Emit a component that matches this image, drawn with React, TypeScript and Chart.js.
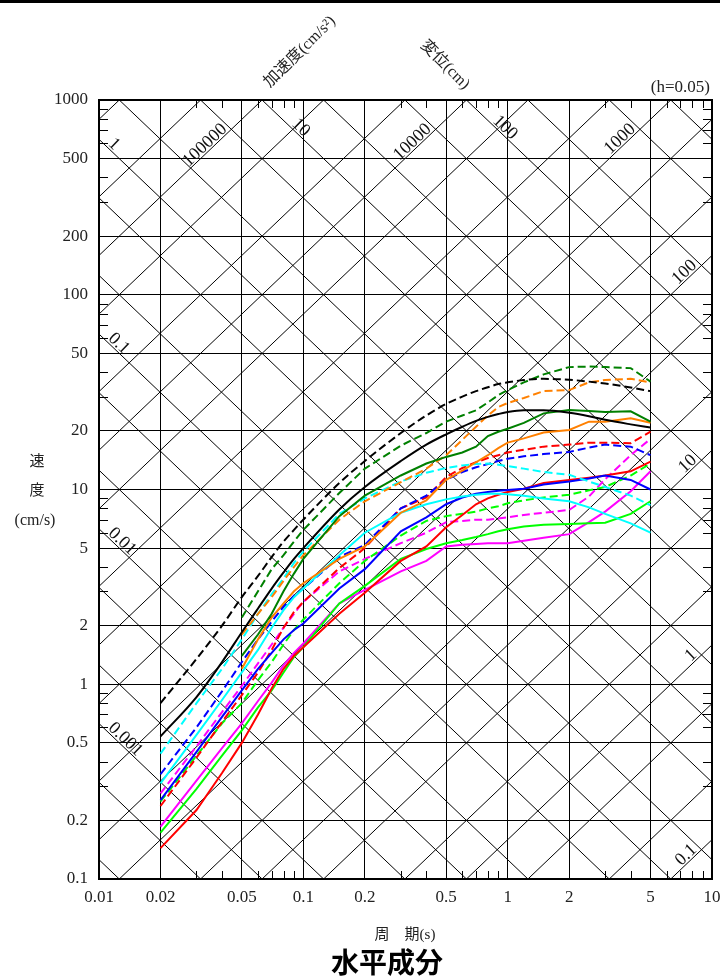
import React, { useEffect, useRef } from "react";
import { Chart, registerables } from "chart.js";

Chart.register(...registerables);

// ---- data ----
const periods = [0.02, 0.03, 0.04, 0.05, 0.06, 0.07, 0.08, 0.09, 0.1, 0.15, 0.2, 0.3, 0.4, 0.5, 0.6, 0.7, 0.8, 0.9, 1.0, 1.2, 1.5, 2, 2.5, 3, 4, 5];

const blackDashed = [0.8, 1.35, 2.0, 2.8, 3.6, 4.5, 5.4, 6.2, 7.0, 10.8, 14.0, 19.5, 24.0, 27.5, 30.0, 32.0, 33.5, 34.8, 35.5, 36.5, 37.0, 36.6, 35.8, 35.0, 33.4, 32.0];
const blackSolid = [0.54, 0.86, 1.3, 1.85, 2.45, 3.1, 3.75, 4.4, 5.0, 7.9, 10.3, 14.0, 17.0, 19.2, 21.0, 22.5, 23.6, 24.4, 25.0, 25.5, 25.5, 24.8, 23.8, 22.8, 21.6, 20.8];
const greenDashed = [null, null, null, 2.2, 3.0, 3.9, 4.6, 5.4, 6.2, 9.6, 12.8, 16.8, 19.5, 22.3, 24.0, 25.5, 28.0, 30.5, 32.4, 35.5, 39.0, 42.5, 42.8, 42.5, 42.0, 35.8];
const greenSolid = [null, null, null, 1.4, 1.8, 2.3, 3.0, 3.7, 4.4, 7.3, 9.3, 11.8, 13.6, 14.7, 15.5, 16.6, 18.8, 19.8, 20.5, 22.0, 24.6, 25.6, 25.3, 25.0, 25.2, 22.3];
const orangeDashed = [null, null, null, 1.8, 2.3, 2.8, 3.4, 4.0, 4.6, 7.0, 8.7, 10.9, 12.8, 15.0, 18.0, 21.0, 24.0, 26.5, 27.8, 29.5, 32.0, 32.4, 35.5, 36.5, 37.0, 35.5];
const orangeSolid = [null, null, null, 1.2, 1.7, 2.2, 2.6, 3.0, 3.3, 4.4, 5.1, 7.6, 8.8, 11.2, 12.5, 13.8, 15.0, 16.3, 17.4, 18.3, 19.6, 20.2, 22.3, 22.3, 23.2, 22.0];
const cyanDashed = [0.44, 0.8, 1.2, 1.7, 2.3, 2.9, 3.5, 4.2, 4.8, 7.5, 9.0, 11.0, 12.2, 12.9, 13.3, 13.5, 13.6, 13.4, 13.2, 12.8, 12.3, 11.9, 11.0, 10.3, 9.3, 8.3];
const cyanSolid = [0.31, 0.55, 0.83, 1.15, 1.5, 1.95, 2.4, 2.8, 3.1, 4.6, 6.0, 7.6, 8.4, 8.9, 9.2, 9.4, 9.5, 9.5, 9.45, 9.3, 9.0, 8.7, 8.1, 7.5, 6.7, 6.0];
const blueDashed = [0.345, 0.6, 0.92, 1.3, 1.7, 2.1, 2.5, 2.85, 3.1, 4.5, 5.2, 8.0, 9.3, 11.2, 12.3, 13.0, 13.5, 14.0, 14.4, 14.8, 15.2, 15.6, 16.4, 17.0, 16.6, 15.0];
const blueSolid = [0.254, 0.45, 0.68, 0.93, 1.2, 1.45, 1.7, 1.9, 2.05, 3.1, 3.9, 6.1, 7.2, 8.4, 9.1, 9.5, 9.7, 9.85, 9.95, 10.1, 10.6, 11.0, 11.4, 11.8, 11.2, 10.0];
const redDashed = [0.237, 0.42, 0.64, 0.88, 1.15, 1.5, 1.95, 2.35, 2.65, 3.95, 5.0, 8.0, 9.1, 11.6, 12.9, 13.8, 14.5, 15.0, 15.5, 16.0, 16.6, 17.0, 17.4, 17.4, 17.3, 19.8];
const redSolid = [0.144, 0.226, 0.35, 0.5, 0.7, 0.95, 1.2, 1.4, 1.55, 2.3, 2.95, 4.3, 5.1, 6.4, 7.4, 8.4, 9.0, 9.4, 9.7, 10.1, 10.8, 11.2, 11.5, 11.8, 12.4, 13.9];
const limeDashed = [0.25, 0.43, 0.63, 0.8, 1.05, 1.3, 1.6, 1.9, 2.15, 3.3, 4.3, 5.8, 6.9, 7.3, 7.5, 7.7, 8.0, 8.2, 8.5, 8.8, 9.1, 9.4, 9.9, 10.3, 11.8, 13.6];
const limeSolid = [0.173, 0.29, 0.43, 0.58, 0.76, 0.93, 1.15, 1.38, 1.55, 2.6, 3.2, 4.4, 4.95, 5.3, 5.5, 5.7, 5.9, 6.1, 6.25, 6.45, 6.6, 6.65, 6.7, 6.75, 7.5, 8.7];
const magentaDashed = [0.275, 0.48, 0.72, 0.98, 1.28, 1.6, 1.95, 2.3, 2.65, 3.8, 4.4, 5.3, 6.0, 6.8, 6.9, 7.0, 7.0, 7.1, 7.2, 7.4, 7.6, 7.85, 9.2, 11.3, 15.0, 18.2];
const magentaSolid = [0.186, 0.32, 0.47, 0.63, 0.82, 1.02, 1.25, 1.45, 1.62, 2.6, 3.05, 3.8, 4.3, 5.1, 5.2, 5.25, 5.3, 5.3, 5.3, 5.45, 5.65, 5.9, 6.8, 7.7, 9.8, 12.4];

const xTickValues = [0.01, 0.02, 0.05, 0.1, 0.2, 0.5, 1, 2, 5, 10];
const xTickLabels = ["0.01", "0.02", "0.05", "0.1", "0.2", "0.5", "1", "2", "5", "10"];
const yTickValues = [0.1, 0.2, 0.5, 1, 2, 5, 10, 20, 50, 100, 200, 500, 1000];
const yTickLabels = ["0.1", "0.2", "0.5", "1", "2", "5", "10", "20", "50", "100", "200", "500", "1000"];
const minorMultipliers = [3, 4, 6, 7, 8, 9];

// diagonal families (1-2-5 series)
const dispValues = [0.0001, 0.0002, 0.0005, 0.001, 0.002, 0.005, 0.01, 0.02, 0.05, 0.1, 0.2, 0.5, 1, 2, 5, 10, 20, 50, 100, 200, 500, 1000, 2000];
const accValues = [0.05, 0.1, 0.2, 0.5, 1, 2, 5, 10, 20, 50, 100, 200, 500, 1000, 2000, 5000, 10000, 20000, 50000, 100000, 200000, 500000];
const dispLeftLabels = [1, 0.1, 0.01, 0.001];
const dispTopLabels = [10, 100];
const accTopLabels = [100000, 10000, 1000];
const accRightLabels = [100, 10, 1, 0.1];

const SERIF = "'Liberation Serif', 'DejaVu Serif', serif";
const CJK = "'Liberation Serif', 'Noto Sans CJK JP', sans-serif";

const seriesList = [
  { data: blackDashed, color: "#000000", dashed: true, smooth: true },
  { data: blackSolid, color: "#000000", dashed: false, smooth: true },
  { data: greenDashed, color: "#008000", dashed: true, smooth: false },
  { data: greenSolid, color: "#008000", dashed: false, smooth: false },
  { data: orangeDashed, color: "#ff8000", dashed: true, smooth: false },
  { data: orangeSolid, color: "#ff8000", dashed: false, smooth: false },
  { data: cyanDashed, color: "#00ffff", dashed: true, smooth: false },
  { data: cyanSolid, color: "#00ffff", dashed: false, smooth: false },
  { data: blueDashed, color: "#0000ff", dashed: true, smooth: false },
  { data: blueSolid, color: "#0000ff", dashed: false, smooth: false },
  { data: redDashed, color: "#ff0000", dashed: true, smooth: false },
  { data: redSolid, color: "#ff0000", dashed: false, smooth: false },
  { data: limeDashed, color: "#00ff00", dashed: true, smooth: false },
  { data: limeSolid, color: "#00ff00", dashed: false, smooth: false },
  { data: magentaDashed, color: "#ff00ff", dashed: true, smooth: false },
  { data: magentaSolid, color: "#ff00ff", dashed: false, smooth: false },
];

const TWO_PI = 2 * Math.PI;

const tripartitePlugin = {
  id: "tripartite",
  beforeDatasetsDraw(chart: any) {
    const { ctx, chartArea: ca, scales } = chart;
    const xs = scales.x;
    const ys = scales.y;
    ctx.save();
    ctx.beginPath();
    ctx.rect(ca.left, ca.top, ca.right - ca.left, ca.bottom - ca.top);
    ctx.clip();
    ctx.strokeStyle = "#000";
    ctx.lineWidth = 1;
    const t0 = xs.min;
    const t1 = xs.max;
    ctx.beginPath();
    for (const d of dispValues) {
      ctx.moveTo(xs.getPixelForValue(t0), ys.getPixelForValue((TWO_PI * d) / t0));
      ctx.lineTo(xs.getPixelForValue(t1), ys.getPixelForValue((TWO_PI * d) / t1));
    }
    for (const a of accValues) {
      ctx.moveTo(xs.getPixelForValue(t0), ys.getPixelForValue((a * t0) / TWO_PI));
      ctx.lineTo(xs.getPixelForValue(t1), ys.getPixelForValue((a * t1) / TWO_PI));
    }
    ctx.stroke();
    ctx.restore();
  },
  afterDraw(chart: any) {
    const { ctx, chartArea: ca, scales } = chart;
    const xs = scales.x;
    const ys = scales.y;
    ctx.save();

    // top bar of the page
    ctx.fillStyle = "#000";
    ctx.fillRect(0, 0, chart.width, 3);

    // frame
    ctx.strokeStyle = "#000";
    ctx.lineWidth = 2;
    ctx.strokeRect(ca.left, ca.top, ca.right - ca.left, ca.bottom - ca.top);

    // minor ticks
    ctx.lineWidth = 1;
    ctx.beginPath();
    for (let e = -2; e < 1; e++) {
      for (const m of minorMultipliers) {
        const px = Math.round(xs.getPixelForValue(m * Math.pow(10, e))) + 0.5;
        ctx.moveTo(px, ca.bottom);
        ctx.lineTo(px, ca.bottom - 8);
        ctx.moveTo(px, ca.top);
        ctx.lineTo(px, ca.top + 8);
      }
    }
    for (let e = -1; e < 3; e++) {
      for (const m of minorMultipliers) {
        const py = Math.round(ys.getPixelForValue(m * Math.pow(10, e))) + 0.5;
        ctx.moveTo(ca.left, py);
        ctx.lineTo(ca.left + 9, py);
        ctx.moveTo(ca.right, py);
        ctx.lineTo(ca.right - 9, py);
      }
    }
    ctx.stroke();

    // diagonal labels
    const dispPt = (d: number, px: number) => {
      const t = xs.getValueForPixel(px);
      return { x: px, y: ys.getPixelForValue((TWO_PI * d) / t) };
    };
    const accPt = (a: number, px: number) => {
      const t = xs.getValueForPixel(px);
      return { x: px, y: ys.getPixelForValue((a * t) / TWO_PI) };
    };
    const drawAlong = (text: string, p: { x: number; y: number }, q: { x: number; y: number }, align: CanvasTextAlign) => {
      const th = Math.atan2(q.y - p.y, q.x - p.x);
      const off = 2;
      ctx.save();
      ctx.translate(p.x + Math.sin(th) * off, p.y - Math.cos(th) * off);
      ctx.rotate(th);
      ctx.textAlign = align;
      ctx.textBaseline = "alphabetic";
      ctx.fillText(text, 0, 0);
      ctx.restore();
    };
    ctx.fillStyle = "#111";
    ctx.font = `18px ${SERIF}`;
    const yTop = ca.top;
    for (const d of dispLeftLabels) {
      const x0 = ca.left + 7;
      drawAlong(String(d), dispPt(d, x0), dispPt(d, x0 + 20), "left");
    }
    for (const d of dispTopLabels) {
      const tTop = (TWO_PI * d) / ys.getValueForPixel(yTop);
      const xTop = xs.getPixelForValue(tTop);
      const x0 = xTop + 34;
      drawAlong(String(d), dispPt(d, x0), dispPt(d, x0 + 20), "center");
    }
    for (const a of accTopLabels) {
      const tTop = (TWO_PI * ys.getValueForPixel(yTop)) / a;
      const xTop = xs.getPixelForValue(tTop);
      const x0 = xTop - 33;
      drawAlong(String(a), accPt(a, x0), accPt(a, x0 + 20), "right");
    }
    for (const a of accRightLabels) {
      const x0 = ca.right - 13;
      drawAlong(String(a), accPt(a, x0), accPt(a, x0 + 20), "right");
    }

    // titles
    ctx.fillStyle = "#222";
    ctx.textAlign = "center";
    ctx.textBaseline = "middle";
    ctx.font = `15px ${CJK}`;
    ctx.fillText("速", 37, 462);
    ctx.fillText("度", 37, 491);
    ctx.font = `16px ${SERIF}`;
    ctx.fillText("(cm/s)", 35, 521);
    ctx.font = `15px ${CJK}`;
    ctx.fillText("周\u3000期(s)", 405, 935);

    ctx.font = `17px ${SERIF}`;
    ctx.textAlign = "right";
    ctx.fillText("(h=0.05)", 710, 88);

    ctx.font = `16px ${CJK}`;
    ctx.save();
    ctx.translate(300, 52);
    ctx.rotate(-Math.PI / 4);
    ctx.textAlign = "center";
    ctx.fillText("加速度(cm/s\u00b2)", 0, 0);
    ctx.restore();
    ctx.save();
    ctx.translate(445, 65);
    ctx.rotate(Math.PI / 4);
    ctx.textAlign = "center";
    ctx.fillText("変位(cm)", 0, 0);
    ctx.restore();

    ctx.fillStyle = "#000";
    ctx.font = `bold 28px 'Noto Sans CJK JP', sans-serif`;
    ctx.textAlign = "center";
    ctx.fillText("水平成分", 387, 962);

    ctx.restore();
  },
};

export default function App() {
  const ref = useRef<HTMLCanvasElement>(null);
  useEffect(() => {
    document.body.style.margin = "0";
    const canvas = ref.current;
    if (!canvas) return;
    const chart = new Chart(canvas, {
      type: "line",
      data: {
        datasets: seriesList.map((s) => ({
          data: periods
            .map((t, i) => ({ x: t, y: s.data[i] as number | null }))
            .filter((p) => p.y !== null) as any,
          borderColor: s.color,
          backgroundColor: s.color,
          borderWidth: 2,
          borderDash: s.dashed ? [8, 4] : [],
          pointRadius: 0,
          fill: false,
          tension: 0,
          cubicInterpolationMode: s.smooth ? "monotone" : "default",
        })),
      },
      options: {
        responsive: false,
        animation: false,
        events: [],
        layout: { padding: { top: 100, right: 8, left: 0, bottom: 0 } },
        plugins: {
          legend: { display: false },
          tooltip: { enabled: false },
          title: { display: false },
        },
        scales: {
          x: {
            type: "logarithmic",
            min: 0.01,
            max: 10,
            position: "bottom",
            afterBuildTicks: (s: any) => {
              s.ticks = xTickValues.map((v) => ({ value: v }));
            },
            afterFit: (s: any) => {
              s.height = 99;
              s.paddingLeft = 0;
              s.paddingRight = 0;
            },
            ticks: {
              autoSkip: false,
              maxRotation: 0,
              minRotation: 0,
              padding: 8,
              color: "#222",
              font: { family: SERIF, size: 17 },
              callback: (v: any) => xTickLabels[xTickValues.indexOf(Number(v))] ?? "",
            },
            grid: { color: "#000", lineWidth: 1, drawTicks: false },
            border: { display: false },
          },
          y: {
            type: "logarithmic",
            min: 0.1,
            max: 1000,
            position: "left",
            afterBuildTicks: (s: any) => {
              s.ticks = yTickValues.map((v) => ({ value: v }));
            },
            afterFit: (s: any) => {
              s.width = 99;
              s.paddingTop = 0;
              s.paddingBottom = 0;
            },
            ticks: {
              autoSkip: false,
              padding: 11,
              color: "#222",
              font: { family: SERIF, size: 17 },
              callback: (v: any) => yTickLabels[yTickValues.indexOf(Number(v))] ?? "",
            },
            grid: { color: "#000", lineWidth: 1, drawTicks: false },
            border: { display: false },
          },
        },
      } as any,
      plugins: [tripartitePlugin],
    });
    return () => chart.destroy();
  }, []);
  return (
    <div style={{ width: 720, height: 978, position: "relative" }}>
      <canvas ref={ref} width={720} height={978} style={{ display: "block", width: 720, height: 978 }} />
    </div>
  );
}
